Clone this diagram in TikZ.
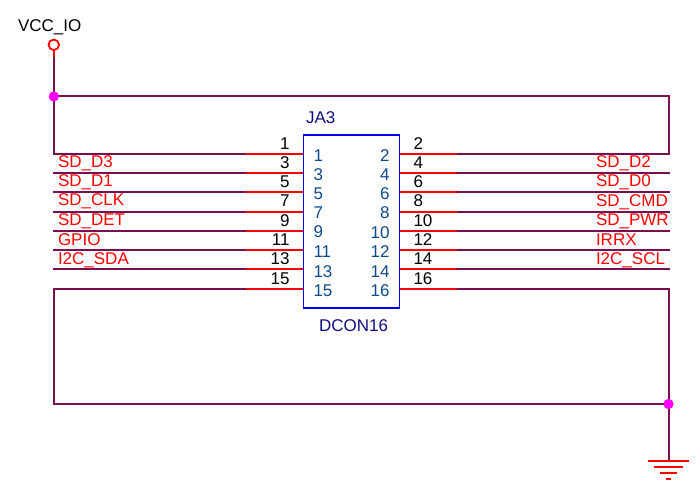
\documentclass[tikz,border=0pt]{standalone}
\usepackage{fontspec}
\setmainfont{Liberation Sans}
\definecolor{wirec}{HTML}{7A0F50}
\definecolor{pinnum}{HTML}{0F4A8C}
\definecolor{refc}{HTML}{10107F}
\definecolor{junc}{HTML}{FF00FF}
\definecolor{pinred}{HTML}{FF0000}
\definecolor{boxblue}{HTML}{0000FF}
\tikzset{
  wire/.style={draw=wirec,line width=2pt,line cap=rect,line join=miter},
  pinline/.style={draw=pinred,line width=2pt},
  txt/.style={inner sep=0pt,outer sep=0pt,font=\fontsize{17}{17}\selectfont},
  lab/.style={txt,text=pinred,anchor=base west},
  outer/.style={txt,text=black},
  inner/.style={txt,text=pinnum},
  ref/.style={txt,text=refc,anchor=base west},
  dotj/.style={circle,fill=junc,draw=none,minimum size=10pt,inner sep=0pt,outer sep=0pt},
  gndline/.style={draw=pinred,line width=2pt}
}
\begin{document}
\begin{tikzpicture}[x=1pt,y=-1pt]
\useasboundingbox[fill=white] (0,0) rectangle (698,486);
% power
\node[txt,anchor=base west] (vcctxt) at (18,32) {VCC\_IO};
\node[circle,draw=pinred,line width=1.8pt,fill=white,minimum size=10.5pt,inner sep=0pt,outer sep=0pt] (vcc) at (53.8,44.8) {};
\coordinate (vs) at (53.8,58);
\node[dotj] (jt) at (53.8,96.5) {};
\node[dotj] (jb) at (668.5,404) {};
\coordinate (gt) at (668.5,461);
\coordinate (gl1) at (648,461); \coordinate (gr1) at (689,461);
\coordinate (gl2) at (654,467); \coordinate (gr2) at (683,467);
\coordinate (gl3) at (660,473); \coordinate (gr3) at (677,473);
\coordinate (gl4) at (665.5,479); \coordinate (gr4) at (671,479);
% rows
\foreach \n/\y in {1/154,2/173.2,3/192.5,4/211.7,5/230.8,6/250,7/269.3,8/288.7}{
  \coordinate (La\n) at (53.8,\y);
  \coordinate (Lb\n) at (245.5,\y);
  \coordinate (Lc\n) at (303.5,\y);
  \coordinate (Ra\n) at (399.5,\y);
  \coordinate (Rb\n) at (457,\y);
  \coordinate (Rc\n) at (668.5,\y);
  \draw[wire] (La\n) -- (Lb\n);
  \draw[wire] (Rb\n) -- (Rc\n);
  \draw[pinline] (Lb\n) -- (Lc\n);
  \draw[pinline] (Ra\n) -- (Rb\n);
}
% connector body
\node[draw=boxblue,line width=1.8pt,minimum width=96pt,minimum height=173pt,inner sep=0pt,outer sep=0pt,anchor=north west] (box) at (303.5,135) {};
\node[ref] (ja) at (306,124) {JA3};
\node[ref] (dc) at (319,331) {DCON16};
% outer numbers
\foreach \t/\y in {1/150,3/169,5/188,7/207,9/226,11/246,13/265,15/284}
  \node[outer,anchor=base east] (ol\t) at (289.5,\y) {\t};
\foreach \t/\y in {2/150,4/169,6/188,8/207,10/227,12/246,14/265,16/284}
  \node[outer,anchor=base west] (or\t) at (413.5,\y) {\t};
% inner numbers
\foreach \t/\y in {1/162,3/181,5/200,7/219,9/238,11/258,13/277,15/296.5}
  \node[inner,anchor=base west] (il\t) at (313.5,\y) {\t};
\foreach \t/\y in {2/162,4/181,6/200,8/219,10/239,12/258,14/277,16/296.5}
  \node[inner,anchor=base east] (ir\t) at (389.5,\y) {\t};
% net labels
\node[lab] (n1) at (58,168) {SD\_D3};
\node[lab] (n2) at (58,187) {SD\_D1};
\node[lab] (n3) at (58,206) {SD\_CLK};
\node[lab] (n4) at (58,225.5) {SD\_DET};
\node[lab] (n5) at (58,246) {GPIO};
\node[lab] (n6) at (58,264) {I2C\_SDA};
\node[lab] (n7) at (596,168) {SD\_D2};
\node[lab] (n8) at (596,187) {SD\_D0};
\node[lab] (n9) at (596,206.5) {SD\_CMD};
\node[lab] (n10) at (596,225.5) {SD\_PWR};
\node[lab] (n11) at (596,246) {IRRX};
\node[lab] (n12) at (596,264) {I2C\_SCL};
% power wiring
\draw[pinline] (vcc.south) -- (vs);
\draw[wire] (vs) -- (jt.center) -- (La1);
\draw[wire] (jt.center) -| (Rc1);
\draw[wire] (La8) |- (jb.center);
\draw[wire] (Rc8) -- (jb.center) -- (gt);
\node[dotj] at (jt) {};
\node[dotj] at (jb) {};
% ground
\draw[gndline] (gl1) -- (gr1);
\draw[gndline] (gl2) -- (gr2);
\draw[gndline] (gl3) -- (gr3);
\draw[gndline] (gl4) -- (gr4);
\end{tikzpicture}
\end{document}
